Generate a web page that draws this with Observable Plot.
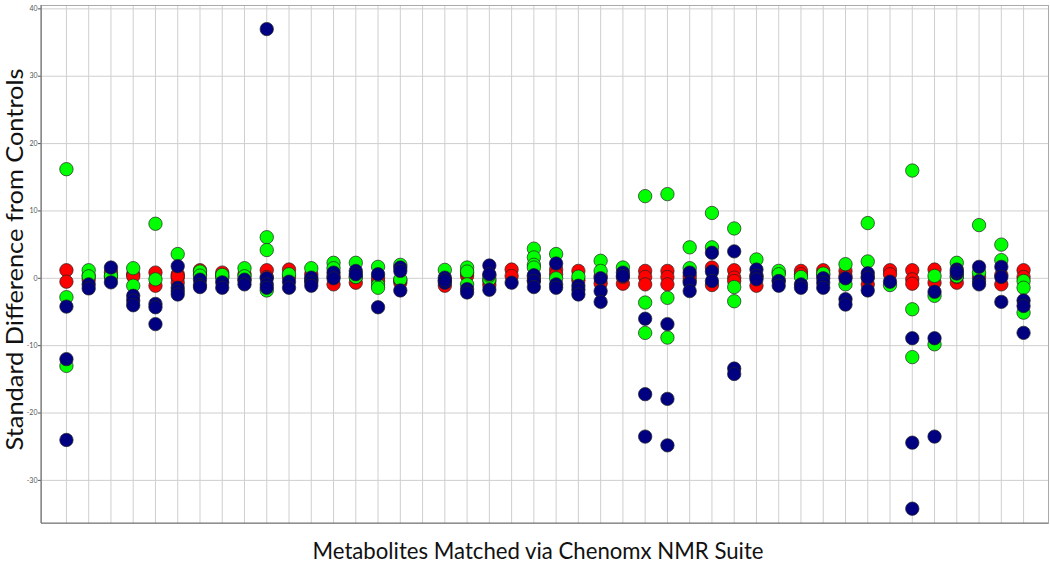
<!DOCTYPE html>
<html>
<head>
<meta charset="utf-8">
<script src="https://cdn.jsdelivr.net/npm/d3@7"></script>
<script src="https://cdn.jsdelivr.net/npm/@observablehq/plot@0.6"></script>
<style>
  html, body { margin: 0; padding: 0; background: #fff; }
  #chart { width: 1050px; height: 563px; }
</style>
</head>
<body>
<div id="chart"></div>
<script>
// 44 metabolite slots (slot 17 is empty in the source chart)
const metabolites = Array.from({length: 44}, (_, i) => `Metabolite ${i + 1}`);

const yTicks = [-30, -20, -10, 0, 10, 20, 30, 40];

const redValues = [
  [1.2, -0.5], [0.4, -0.2], [0.9, 0.2], [0.6, 0.3], [0.85, -1.1],
  [0.6, 0.1, -0.65, 0.3], [1.2, 0.6], [0.85, 0.3], [0.6, -0.3], [1.2, 0.2],
  [1.3, 0.2], [0.6, -0.3], [-0.9, 0.3], [-0.65, 0.2], [-0.4, 0.1],
  [-0.65, -0.3], [], [-1.1, -0.3], [0.35, 0.8], [-1.0, -0.4],
  [1.3, 0.35], [0.2, -0.3], [1.3, 0.6], [1.1, -0.3], [-0.75, 0.3],
  [-0.8, 0.2], [1.1, 0.2, -0.9], [1.1, 0.2, -0.9], [-0.3, 0.3], [1.6, -1.0],
  [1.2, 0.1, -0.4], [-1.1, 0.3], [0.8, -0.3], [1.1, 0.6], [1.2, 0.5],
  [1.1, 0.3], [-0.9, 0.2], [1.2, 0.6], [1.2, -0.15, -0.8], [1.3, -0.65],
  [-0.65, 0.2], [0.2], [-0.9, 0.5], [1.2, 0.2]
];

const greenValues = [
  [16.2, -2.8, -13], [1.2, 0.3], [0.4], [1.5, -1.1], [8.1, -0.15],
  [3.6], [1.0, 0.4], [0.1, 0.5], [1.5, 0.3], [6.1, 4.2, -1.8],
  [0.6], [1.5, -0.2], [2.3, 1.5], [2.3, 0.2], [1.7, -1.0, -1.4],
  [2.0, -0.15], [], [1.25], [1.6, 1.0, -0.9], [-0.15, 0.4],
  [], [4.4, 3.1, 2.0, 1.6], [3.6, 0], [0.25], [2.6, 1.1],
  [1.6], [12.2, -3.6, -8.1], [12.5, -2.9, -8.8], [4.6, 1.5], [9.7, 4.6],
  [7.4, -1.3, -3.4], [2.8], [1.1, 0.6], [0.2], [0.7],
  [2.1, -0.9], [8.2, 2.5], [-1.0], [16, -4.6, -11.7], [0.35, -2.6, -9.8],
  [2.3, 0.3], [7.9, 0.85], [5.0, 2.7], [-0.4, -1.4, -5.1]
];

const blueValues = [
  [-4.2, -12, -24], [-0.9, -1.5], [1.6, -0.6], [-2.6, -3.3, -4.0], [-3.8, -4.3, -6.8],
  [1.8, -1.4, -1.9, -2.4], [-0.2, -1.0, -1.3], [-0.6, -1.4], [-0.2, -0.9], [37, 0, -0.9, -1.4],
  [-0.5, -1.4], [0.1, -0.6, -1.1], [0.85, 0], [1.1, 0.6], [0.6, -4.3],
  [1.6, 1.1, -1.8], [], [0.1, -0.65, -0.3], [-1.6, -2.1], [1.9, 0.6, -1.7],
  [-0.65], [0.45, -0.4, -1.3], [2.2, -0.9, -1.4], [-1.1, -1.7, -2.4], [0, -1.9, -3.5],
  [0.85, 0.35], [-6.0, -17.2, -23.5], [-6.8, -17.9, -24.8], [0.85, -0.65, -1.9], [3.8, 1.0, -0.4],
  [4.0, -13.4, -14.2], [1.3, 0.35, -0.15], [-0.4, -1.1], [-0.9, -1.4], [0, -0.65, -1.4],
  [0, -3.1, -3.9], [0.75, 0.1, -1.8], [-0.5], [-8.9, -24.4, -34.2], [-2.0, -8.9, -23.5],
  [1.3, 0.7, 1.0], [1.7, -0.4, -0.9], [1.7, 0.2, -3.5], [-3.3, -4.1, -8.1]
];

const groupNames = ["Group A", "Group B", "Group C"];
const groupColors = ["#ff0000", "#00ff00", "#000080"];
const groupValues = [redValues, greenValues, blueValues];

const xTitle = "Metabolites Matched via Chenomx NMR Suite";
const yTitle = "Standard Difference from Controls";

const rows = [];
groupValues.forEach((series, g) => {
  series.forEach((vals, i) => {
    for (const v of vals) rows.push({metabolite: metabolites[i], value: v, group: groupNames[g]});
  });
});

const chart = Plot.plot({
  width: 1050,
  height: 563,
  marginLeft: 41,
  marginRight: 2,
  marginTop: 5,
  marginBottom: 40,
  style: {fontFamily: "Lato, 'Open Sans', sans-serif", background: "#fff"},
  x: {type: "point", domain: metabolites, padding: 1.12, align: 0.5, round: false, axis: null},
  y: {domain: [-36.4, 40.5], axis: null},
  color: {type: "ordinal", domain: groupNames, range: groupColors},
  marks: [
    Plot.ruleX(metabolites, {x: d => d, stroke: "#cfcfcf", strokeWidth: 1}),
    Plot.ruleY(yTicks, {y: d => d, stroke: "#cfcfcf", strokeWidth: 1}),
    Plot.frame({stroke: "#aaaaaa", strokeWidth: 1}),
    Plot.axisY({ticks: yTicks, tickSize: 3, tickPadding: 1, fontSize: 7, color: "#555", tickFormat: d => String(d), label: null}),
    Plot.dot(rows, {x: "metabolite", y: "value", fill: "group", r: 6.7, stroke: "#222", strokeWidth: 0.7}),
    Plot.text([xTitle], {text: d => d, frameAnchor: "bottom", textAnchor: "middle", dy: 28, dx: -7, fontSize: 24, fill: "#111", lineAnchor: "middle"}),
    Plot.text([yTitle], {text: d => d, frameAnchor: "left", textAnchor: "middle", dx: -26, dy: -5, rotate: -90, fontSize: 24, fill: "#111", lineAnchor: "middle"})
  ]
});

document.getElementById("chart").appendChild(chart);
const svg = d3.select(chart);
// darker left and bottom axis lines like the source
svg.append("line").attr("x1", 41).attr("x2", 41).attr("y1", 5).attr("y2", 523).attr("stroke", "#777").attr("stroke-width", 1.2);
svg.append("line").attr("x1", 41).attr("x2", 1048).attr("y1", 523).attr("y2", 523).attr("stroke", "#777").attr("stroke-width", 1.2);
svg.selectAll("text").filter(function() { return this.textContent === xTitle; })
  .attr("textLength", 451).attr("lengthAdjust", "spacingAndGlyphs");
svg.selectAll("text").filter(function() { return this.textContent === yTitle; })
  .attr("textLength", 382).attr("lengthAdjust", "spacingAndGlyphs");
</script>
</body>
</html>
